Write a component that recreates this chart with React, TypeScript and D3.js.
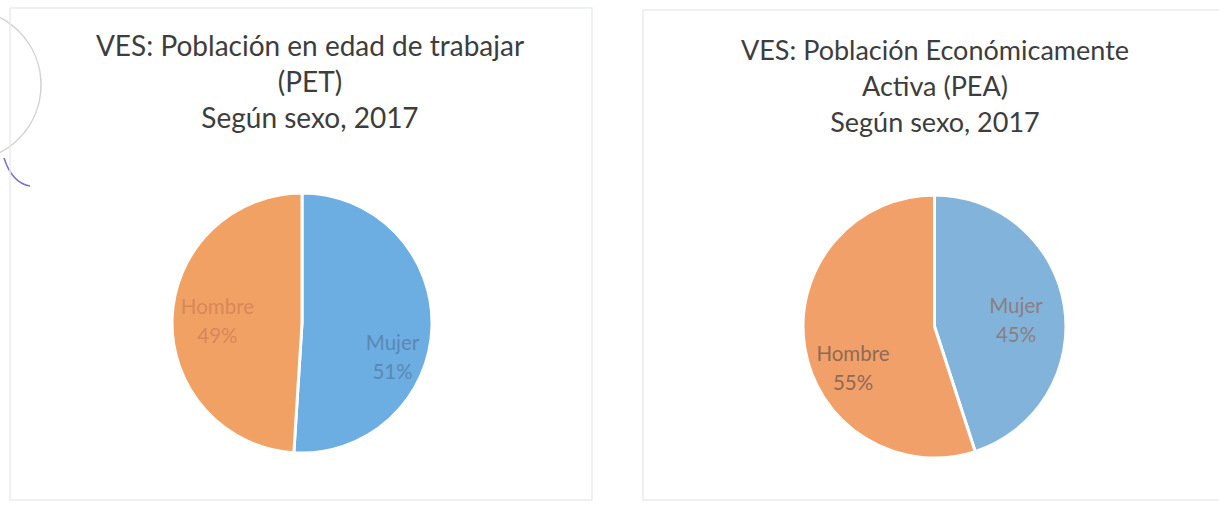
import React from "react";
import * as d3 from "d3";

// ---- data ----
const categories = ["Mujer", "Hombre"];
const petValues = [51, 49];
const peaValues = [45, 55];
const petTitle = ["VES: Población en edad de trabajar", "(PET)", "Según sexo, 2017"];
const peaTitle = ["VES: Población Económicamente", "Activa (PEA)", "Según sexo, 2017"];

const W = 1219;
const H = 506;

type PanelCfg = {
  title: string[];
  values: number[];
  cx: number;
  cy: number;
  r: number;
  titleX: number;
  titleY: number;
  titleSize: number;
  colors: string[];
  labelColors: string[];
  nudges: [number, number][];
  box: [number, number, number, number];
};

const panels: PanelCfg[] = [
  {
    title: petTitle,
    values: petValues,
    cx: 302,
    cy: 323,
    r: 130,
    titleX: 310,
    titleY: 56,
    titleSize: 28,
    colors: ["#6DAEE2", "#F2A165"],
    labelColors: ["#5A88B4", "#D8875A"],
    nudges: [[10, 30], [-4, 0]],
    box: [10, 8, 592, 500],
  },
  {
    title: peaTitle,
    values: peaValues,
    cx: 934.5,
    cy: 326.5,
    r: 131.5,
    titleX: 935,
    titleY: 60,
    titleSize: 27,
    colors: ["#82B4DB", "#F2A06A"],
    labelColors: ["#8C7E80", "#8F6A55"],
    nudges: [[1, 5], [-1, 28]],
    box: [643, 10, 1230, 500],
  },
];

function Panel({ cfg }: { cfg: PanelCfg }) {
  const pie = d3
    .pie<number>()
    .sort(null)
    .value((d) => d)
    .startAngle(0)
    .endAngle(2 * Math.PI);
  const arcs = pie(cfg.values);
  const arc = d3.arc<d3.PieArcDatum<number>>().innerRadius(0).outerRadius(cfg.r);
  const labelArc = d3
    .arc<d3.PieArcDatum<number>>()
    .innerRadius(cfg.r * 0.62)
    .outerRadius(cfg.r * 0.62);
  const total = d3.sum(cfg.values);
  const fmt = d3.format(".0%");
  const [x0, y0, x1, y1] = cfg.box;
  return (
    <g>
      <rect x={x0} y={y0} width={x1 - x0} height={y1 - y0} fill="none" stroke="#e8edf1" strokeWidth={1.5} />
      {cfg.title.map((t, i) => (
        <text
          key={i}
          x={cfg.titleX}
          y={cfg.titleY + i * 36}
          textAnchor="middle"
          fontFamily="Lato, 'Open Sans', sans-serif"
          fontSize={cfg.titleSize}
          fill="#3d3d3d"
        >
          {t}
        </text>
      ))}
      <g transform={`translate(${cfg.cx},${cfg.cy})`}>
        {arcs.map((a, i) => (
          <path key={i} d={arc(a) || ""} fill={cfg.colors[i]} stroke="#ffffff" strokeWidth={3} strokeLinejoin="round" />
        ))}
        {arcs.map((a, i) => {
          const [lx, ly] = labelArc.centroid(a);
          const x = lx + cfg.nudges[i][0];
          const y = ly + cfg.nudges[i][1];
          return (
            <g key={"l" + i} fontFamily="Lato, 'Open Sans', sans-serif" fontSize={20.5} fill={cfg.labelColors[i]} textAnchor="middle">
              <text x={x} y={y - 14} dominantBaseline="central">
                {categories[i]}
              </text>
              <text x={x} y={y + 15} dominantBaseline="central">
                {fmt(a.data / total)}
              </text>
            </g>
          );
        })}
      </g>
    </g>
  );
}

export default function App() {
  return (
    <svg
      width={W}
      height={H}
      viewBox={`0 0 ${W} ${H}`}
      style={{ position: "absolute", left: 0, top: 0, background: "#ffffff" }}
    >
      <rect x={0} y={0} width={W} height={H} fill="#ffffff" />
      {/* scanned stamp remnants */}
      <circle cx={-35} cy={85} r={76} fill="none" stroke="#d2d2d2" strokeWidth={1.5} />
      <path d="M4,158 Q12,183 30,186" fill="none" stroke="#7a6cc8" strokeWidth={1.5} />
      {panels.map((p, i) => (
        <Panel key={i} cfg={p} />
      ))}
    </svg>
  );
}
